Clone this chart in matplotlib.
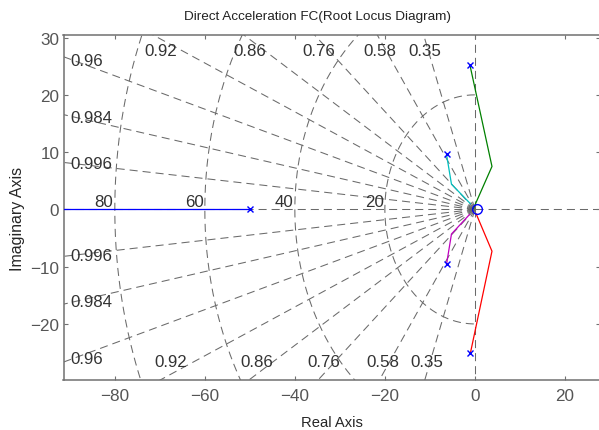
import numpy as np
import matplotlib
matplotlib.use("Agg")
import matplotlib.pyplot as plt

plt.rcParams['font.family'] = ['Liberation Sans', 'DejaVu Sans']
plt.rcParams['lines.scale_dashes'] = False

# ---------------- data ----------------
title = "Direct Acceleration FC(Root Locus Diagram)"
xlabel = "Real Axis"
ylabel = "Imaginary Axis"

xlim = (-91.4, 27.8)
ylim = (-29.7, 30.45)
xticks = [-80, -60, -40, -20, 0, 20]
yticks = [-20, -10, 0, 10, 20, 30]

zeta_values = [0.35, 0.58, 0.76, 0.86, 0.92, 0.96, 0.984, 0.996]
wn_values = [20, 40, 60, 80]

pole_re = [-50.0, -1.1, -1.0, -6.3, -6.3]
pole_im = [0.0, 25.2, -25.1, 9.6, -9.6]
zero_re = [0.5]
zero_im = [0.0]

branch_blue_re = [-50.0, -120.0]
branch_blue_im = [0.0, 0.0]
branch_green_re = [-1.1, 3.8, -0.3]
branch_green_im = [25.2, 7.5, 0.2]
branch_red_re = [-1.0, 3.8, 0.3]
branch_red_im = [-25.1, -7.3, -0.8]
branch_cyan_re = [-6.3, -5.2, -1.0]
branch_cyan_im = [9.6, 4.4, 1.0]
branch_magenta_re = [-6.3, -5.2, -1.2]
branch_magenta_im = [-9.6, -4.3, -0.9]

# ---------------- figure ----------------
W, H = 599, 431
fig = plt.figure(figsize=(W / 100, H / 100), dpi=100)
ax_left, ax_right = 63.5, 600.0
ax_top, ax_bot = 36.0, 380.5
ax = fig.add_axes([ax_left / W, 1 - ax_bot / H, (ax_right - ax_left) / W, (ax_bot - ax_top) / H])
ax.set_xlim(*xlim)
ax.set_ylim(*ylim)

grid_color = '#6a6a6a'
dash = (0, (5.8, 3.6))
glw = 0.75

# zeta lines (from origin outward)
R = 300
for z in zeta_values:
    th = np.arccos(z)
    for s in (1, -1):
        ax.plot([0, -R * np.cos(th)], [0, s * R * np.sin(th)], color=grid_color,
                lw=glw, linestyle=dash, zorder=1)
# imaginary axis and real axis
ax.plot([0, 0], [0, R], color=grid_color, lw=glw, linestyle=dash, zorder=1)
ax.plot([0, 0], [0, -R], color=grid_color, lw=glw, linestyle=dash, zorder=1)
ax.plot([0, -R], [0, 0], color=grid_color, lw=glw, linestyle=dash, zorder=1)
ax.plot([0, R], [0, 0], color=grid_color, lw=glw, linestyle=dash, zorder=1)

# natural frequency arcs
phi = np.linspace(np.pi / 2, 3 * np.pi / 2, 400)
for wn in wn_values:
    ax.plot(wn * np.cos(phi), wn * np.sin(phi), color=grid_color, lw=glw,
            linestyle=dash, zorder=1)

# labels for zeta lines
lab_color = '#333333'
lab_fs = 12.2
for z in zeta_values:
    th = np.arccos(z)
    t = np.tan(th)
    y_edge = -89.0 * -t  # y at left side
    if abs(89.0 * t) < 29.0:
        yl = 89.0 * t
        for s in (1, -1):
            ax.text(-89.8, s * yl, f"{z:g}", ha='left', va='center',
                    fontsize=lab_fs, color=lab_color, zorder=3)
    else:
        ax.text(-29.7 / t, 27.8, f"{z:g}", ha='center', va='center',
                fontsize=lab_fs, color=lab_color, zorder=3)
        ax.text(-28.8 / t, -26.6, f"{z:g}", ha='center', va='center',
                fontsize=lab_fs, color=lab_color, zorder=3)

for wn in wn_values:
    ax.text(-wn - 0.3, 0.6, f"{wn}", ha='right', va='baseline',
            fontsize=lab_fs, color=lab_color, zorder=3)

# root locus branches
llw = 0.9
ax.plot(branch_blue_re, branch_blue_im, color=(0, 0, 1), lw=llw, zorder=4)
ax.plot(branch_green_re, branch_green_im, color=(0, 0.5, 0), lw=llw, zorder=4)
ax.plot(branch_red_re, branch_red_im, color=(1, 0, 0), lw=llw, zorder=4)
ax.plot(branch_cyan_re, branch_cyan_im, color=(0, 0.75, 0.75), lw=llw, zorder=4)
ax.plot(branch_magenta_re, branch_magenta_im, color=(0.75, 0, 0.75), lw=llw, zorder=4)

ax.plot(pole_re, pole_im, linestyle='none', marker='x', color='blue', markersize=5,
        markeredgewidth=1.0, zorder=5)
ax.plot(zero_re, zero_im, linestyle='none', marker='o', markerfacecolor='none',
        markeredgecolor='blue', markersize=7, markeredgewidth=1.0, zorder=5)

# axes style
spine_color = '#707070'
for sp in ax.spines.values():
    sp.set_color(spine_color)
    sp.set_linewidth(1.1)
ax.set_xticks(xticks)
ax.set_yticks(yticks)
ax.tick_params(direction='in', length=3, width=0.8, color=spine_color,
               labelcolor='#555555', labelsize=12.3, top=True, right=True)
ax.tick_params(axis='x', pad=6)
ax.tick_params(axis='y', pad=3)

fig.text(317 / W, 1 - 17 / H, title, ha='center', va='center', fontsize=9.7, color='#222222')
fig.text(332 / W, 1 - 423 / H, xlabel, ha='center', va='center', fontsize=10.6, color='#262626')
fig.text(17.5 / W, 1 - 219 / H, ylabel, ha='center', va='center', rotation=90,
         fontsize=11.5, color='#262626')

fig.savefig("out.png", dpi=100)
